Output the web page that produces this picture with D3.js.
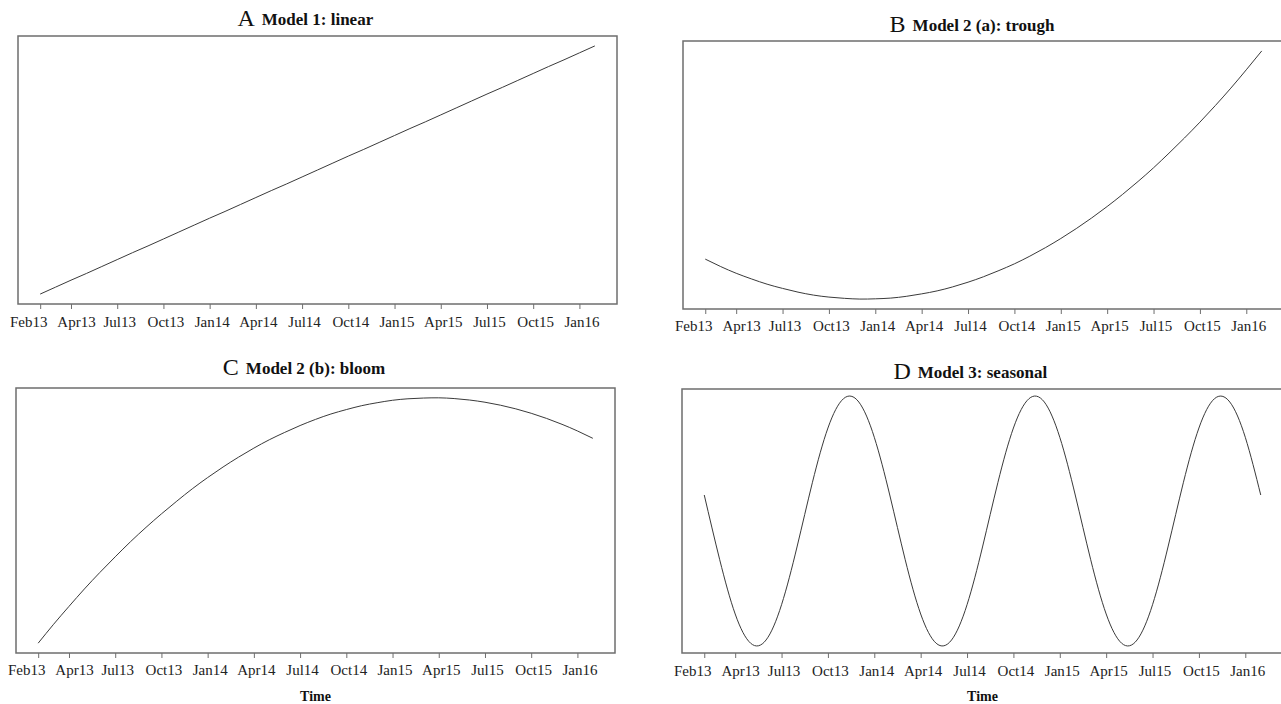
<!DOCTYPE html>
<html>
<head>
<meta charset="utf-8">
<script src="https://cdn.jsdelivr.net/npm/d3@7"></script>
<style>
  html, body { margin: 0; padding: 0; background: #fff; }
  svg { display: block; font-family: "Liberation Serif", "Times New Roman", serif; }
</style>
</head>
<body>
<svg id="chart" width="1281" height="704"></svg>
<script>
// ---- Data (month index 0 = Feb 2013 ... 36 = Feb 2016) ----
const months = d3.range(0, 37);
const tickMonths = [0, 2, 5, 8, 11, 14, 17, 20, 23, 26, 29, 32, 35];
const tickLabels = ["Feb13", "Apr13", "Jul13", "Oct13", "Jan14", "Apr14", "Jul14",
                    "Oct14", "Jan15", "Apr15", "Jul15", "Oct15", "Jan16"];

const linearValues = [0, 2.8, 5.6, 8.3, 11.1, 13.9, 16.7, 19.4, 22.2, 25, 27.8, 30.6,
  33.3, 36.1, 38.9, 41.7, 44.4, 47.2, 50, 52.8, 55.6, 58.3, 61.1, 63.9, 66.7, 69.4,
  72.2, 75, 77.8, 80.6, 83.3, 86.1, 88.9, 91.7, 94.4, 97.2, 100];

const troughValues = [16.1, 13.1, 10.4, 8.1, 6.0, 4.3, 2.8, 1.6, 0.8, 0.3, 0.0, 0.1,
  0.4, 1.1, 2.1, 3.3, 4.9, 6.8, 9.0, 11.5, 14.2, 17.3, 20.7, 24.4, 28.4, 32.7, 37.3,
  42.2, 47.4, 52.9, 58.8, 64.9, 71.3, 78.0, 85.0, 92.4, 100.0];

const bloomValues = [0.0, 7.7, 15.0, 22.1, 28.8, 35.2, 41.4, 47.2, 52.7, 57.9, 62.9,
  67.5, 71.8, 75.8, 79.5, 82.9, 85.9, 88.7, 91.2, 93.4, 95.2, 96.8, 98.0, 99.0, 99.6,
  99.9, 100.0, 99.7, 99.1, 98.2, 97.0, 95.5, 93.7, 91.6, 89.2, 86.5, 83.5];

const seasonalValues = [60.4, 34.5, 12.8, 1.1, 2.4, 16.5, 39.6, 65.5, 87.2, 98.9, 97.6, 83.5,
  60.4, 34.5, 12.8, 1.1, 2.4, 16.5, 39.6, 65.5, 87.2, 98.9, 97.6, 83.5,
  60.4, 34.5, 12.8, 1.1, 2.4, 16.5, 39.6, 65.5, 87.2, 98.9, 97.6, 83.5, 60.4];

const panelLetters = ["A", "B", "C", "D"];
const panelTitles = ["Model 1: linear", "Model 2 (a): trough", "Model 2 (b): bloom", "Model 3: seasonal"];
const xAxisTitle = "Time";

// ---- Layout ----
const panels = [
  { values: linearValues,   x0: 18,  x1: 617,  y0: 36,  y1: 304, titleY: 25,  labelY: 327, showTime: false },
  { values: troughValues,   x0: 683, x1: 1284, y0: 41,  y1: 309, titleY: 31,  labelY: 331, showTime: false },
  { values: bloomValues,    x0: 16,  x1: 615,  y0: 388, y1: 653, titleY: 374, labelY: 675, showTime: true },
  { values: seasonalValues, x0: 682, x1: 1283, y0: 389, y1: 653, titleY: 378, labelY: 676, showTime: true }
];

const svg = d3.select("#chart");
const lineColor = "#3a3a3a";
const boxColor = "#6e6e6e";

panels.forEach((p, i) => {
  const span = 36 * 0.04;
  const x = d3.scaleLinear().domain([0 - span, 36 + span]).range([p.x0, p.x1]);
  const ext = d3.extent(p.values);
  const pad = (ext[1] - ext[0]) * 0.04;
  const y = d3.scaleLinear().domain([ext[0] - pad, ext[1] + pad]).range([p.y1, p.y0]);

  const g = svg.append("g");

  // axis
  const axis = d3.axisBottom(x)
    .tickValues(tickMonths)
    .tickFormat((d, k) => tickLabels[k])
    .tickSize(5)
    .tickSizeOuter(0);
  const ag = g.append("g").attr("transform", `translate(0,${p.y1})`).call(axis);
  ag.select(".domain").remove();
  ag.selectAll(".tick line").attr("stroke", boxColor).attr("stroke-width", 1);
  ag.selectAll(".tick text")
    .attr("font-family", "Liberation Serif, serif")
    .attr("font-size", 15)
    .attr("fill", "#222")
    .attr("dy", null)
    .attr("transform", null)
    .attr("dx", (d, k) => k === 0 ? -12 : (k === 1 ? 5 : 2))
    .attr("y", p.labelY - p.y1);

  // box
  g.append("rect")
    .attr("x", p.x0).attr("y", p.y0)
    .attr("width", p.x1 - p.x0).attr("height", p.y1 - p.y0)
    .attr("fill", "none").attr("stroke", boxColor).attr("stroke-width", 1.5);

  // line
  const line = d3.line()
    .x((d, k) => x(months[k]))
    .y(d => y(d))
    .curve(d3.curveNatural);
  g.append("path")
    .datum(p.values)
    .attr("d", line)
    .attr("fill", "none")
    .attr("stroke", lineColor)
    .attr("stroke-width", 1);

  // title
  const cx = (p.x0 + p.x1) / 2;
  const t = g.append("text")
    .attr("x", cx).attr("y", p.titleY)
    .attr("text-anchor", "middle")
    .attr("font-weight", "bold")
    .attr("font-size", 17)
    .attr("fill", "#111")
    .text(panelTitles[i]);
  const w = t.node().getComputedTextLength();
  g.append("text")
    .attr("x", cx - w / 2 - 7).attr("y", p.titleY + 1)
    .attr("text-anchor", "end")
    .attr("font-size", 24)
    .attr("fill", "#111")
    .text(panelLetters[i]);

  if (p.showTime) {
    g.append("text")
      .attr("x", (p.x0 + p.x1) / 2).attr("y", 701)
      .attr("text-anchor", "middle")
      .attr("font-weight", "bold")
      .attr("font-size", 14)
      .attr("fill", "#111")
      .text(xAxisTitle);
  }
});
</script>
</body>
</html>
